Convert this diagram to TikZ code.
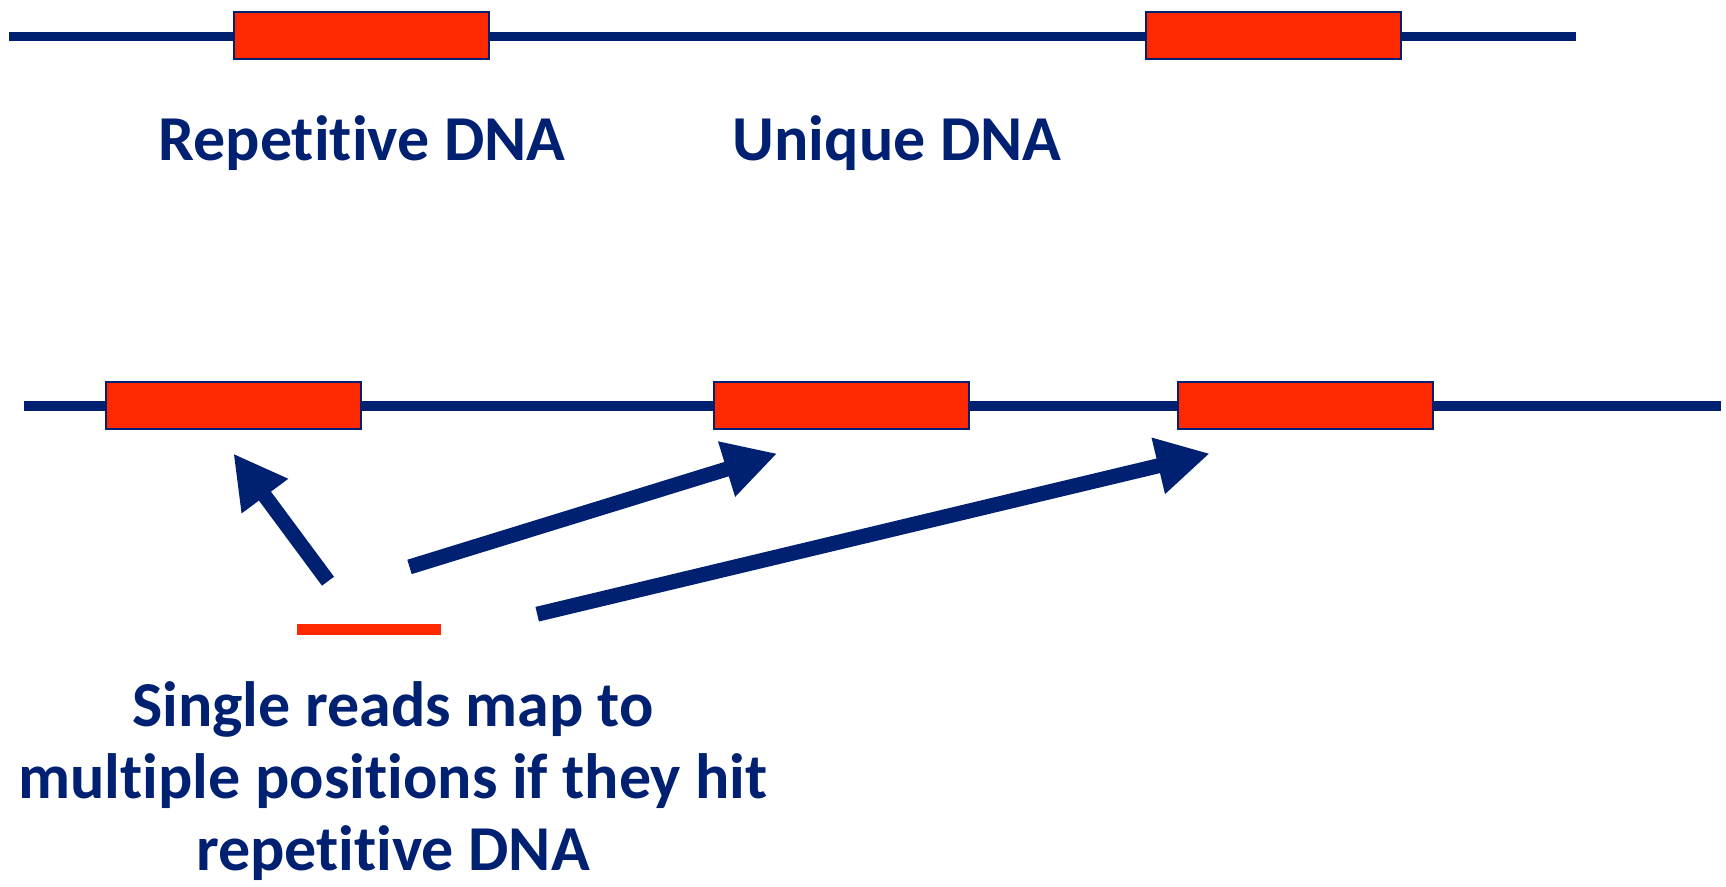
\documentclass[tikz,border=0pt]{standalone}
\usepackage{fontspec}
\setmainfont{Carlito}[Ligatures=NoCommon]
\usetikzlibrary{arrows.meta}
\definecolor{navy}{RGB}{0,33,113}
\definecolor{segred}{RGB}{255,40,0}
\tikzset{
  strand/.style={draw=navy, line width=9.5pt},
  repeatbox/.style={rectangle, fill=segred, draw=navy, line width=2pt,
    minimum width=255pt, minimum height=47pt, inner sep=0pt},
  maparrow/.style={draw=navy, line width=15pt,
    -{Triangle[length=53pt,width=54pt]}},
  lbl/.style={text=navy, font=\fontsize{64}{72}\selectfont\bfseries, inner sep=0pt},
}
\begin{document}
\begin{tikzpicture}[x=1pt, y=-1pt]
  \useasboundingbox (0,0) rectangle (1726,886);

  % upper genome strand
  \coordinate (t0) at (9,36.3);
  \coordinate (t1) at (1576,36.3);
  \draw[strand] (t0) -- (t1);
  \node[repeatbox] (rep1) at (361,35.8) {};
  \node[repeatbox] (uniq) at (1273,35.8) {};
  \node[lbl, anchor=base] (replbl) at (362,160.7) {Repetitive DNA};
  \node[lbl, anchor=base] (uniqlbl) at (897,160.7) {Unique DNA};

  % lower genome strand
  \coordinate (b0) at (24,406.2);
  \coordinate (b1) at (1720.5,406.2);
  \draw[strand] (b0) -- (b1);
  \node[repeatbox] (copyA) at (233.4,405.6) {};
  \node[repeatbox] (copyB) at (841,405.6) {};
  \node[repeatbox] (copyC) at (1305.5,405.6) {};

  % the short read and its candidate placements
  \coordinate (r0) at (297,629.7);
  \coordinate (r1) at (441.4,629.7);
  \draw[draw=segred, line width=11pt] (r0) -- (r1);

  \coordinate (a1s) at (328,581.2);
  \coordinate (a1e) at (233.4,453.5);
  \coordinate (a2s) at (409.5,566.9);
  \coordinate (a2e) at (777.2,453.5);
  \coordinate (a3s) at (537.2,614.2);
  \coordinate (a3e) at (1209.8,453.5);
  \draw[maparrow] (a1s) -- (a1e);
  \draw[maparrow] (a2s) -- (a2e);
  \draw[maparrow] (a3s) -- (a3e);

  \node[lbl, align=center] (caption) at (393,781)
    {Single reads map to\\multiple positions if they hit\\repetitive DNA};
\end{tikzpicture}
\end{document}
